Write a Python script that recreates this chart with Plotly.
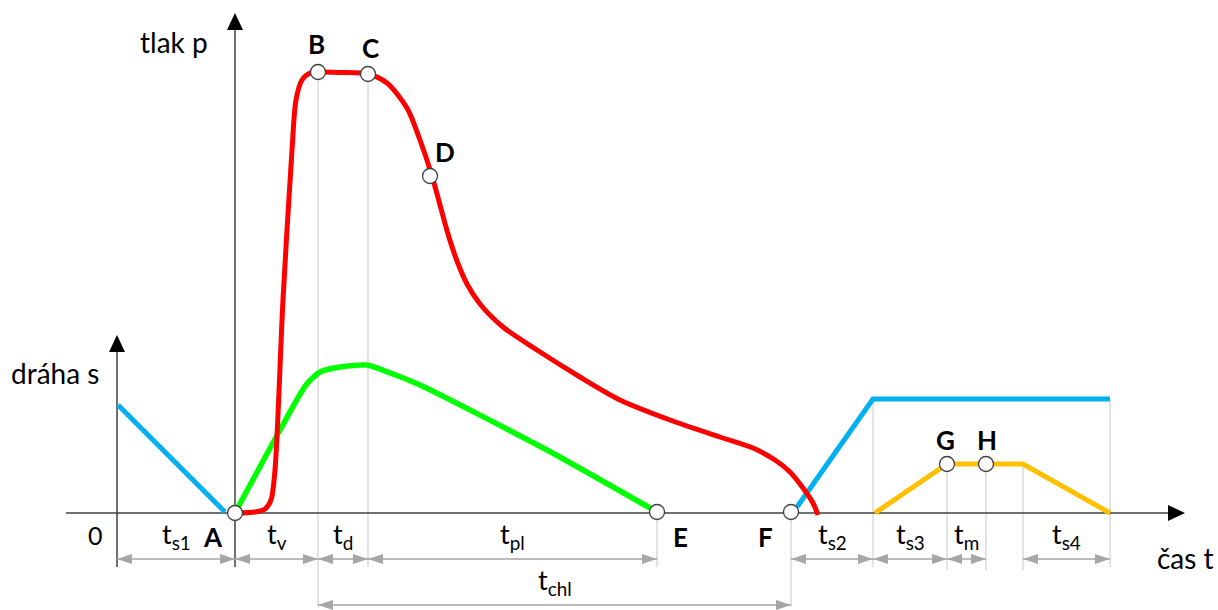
import plotly.graph_objects as go

# Coordinates: t = time units from point A, p = pressure / stroke units above the time axis
# ---- pressure curve (red) ----
red_t = [0, 20, 30, 36, 40, 48, 57, 61, 67, 75, 83, 105, 133, 152, 172, 185, 197, 205, 213, 222,
         232, 245, 268, 302, 345, 385, 435, 485, 518, 540, 555, 568, 578, 583]
red_p = [0, 1, 4, 13, 43, 213, 363, 413, 433, 440, 441, 440.5, 439, 430, 405, 373, 337, 308, 279, 252,
         229, 209, 186, 163, 136, 113, 93, 76, 65, 53, 41, 25, 10, -2]
# ---- stroke of the injection screw (green) ----
green_t = [0, 45, 71, 85, 105, 132, 150, 185, 312, 422]
green_p = [0, 83, 128, 141, 146, 148, 142, 128, 63, 1]
# ---- mould stroke (blue) ----
blue1_t = [-117, -10]
blue1_p = [108, 1]
blue2_t = [562, 638, 875]
blue2_p = [6, 114, 114]
# ---- ejector (orange) ----
orange_t = [640, 712, 751, 788, 875]
orange_p = [0, 49, 49, 49, 0]

# ---- named points ----
pt_names = ["A", "B", "C", "D", "E", "F", "G", "H"]
pt_t = [0, 83, 133, 195, 422, 556, 712, 751]
pt_p = [0, 441, 439, 337, 1, 1, 49, 49]
lbl_t = [-22, 81, 135, 210, 445, 530, 710, 752]
lbl_p = [-24, 469, 465, 361, -24, -24, 73, 73]

# ---- dimension intervals ----
dim_names = ["t<sub>s1</sub>", "t<sub>v</sub>", "t<sub>d</sub>", "t<sub>pl</sub>",
             "t<sub>s2</sub>", "t<sub>s3</sub>", "t<sub>m</sub>", "t<sub>s4</sub>"]
dim_start = [-118, 0, 83, 133, 556, 638, 712, 788]
dim_end = [0, 83, 133, 422, 638, 712, 751, 875]
chl_start, chl_end = 83, 556

# guide lines (t, top p, bottom p)
guide_t = [83, 133, 422, 556, 638, 712, 751, 788, 875]
guide_top = [441, 439, 1, 1, 114, 49, 49, 49, 114]
guide_bot = [-94, -54, -54, -94, -54, -57, -57, -57, -54]

DIM_Y = -46
CHL_Y = -92
GRAY = "#a6a6a6"
LIGHT = "#c8c8c8"
AX = "#404040"
FONT = "Lato"

fig = go.Figure()

# guide lines
gx, gy = [], []
for t, a, b in zip(guide_t, guide_top, guide_bot):
    gx += [t, t, None]
    gy += [a, b, None]
fig.add_trace(go.Scatter(x=gx, y=gy, mode="lines", line=dict(color=LIGHT, width=1), hoverinfo="skip"))

# axes lines
fig.add_trace(go.Scatter(x=[-169, 933], y=[0, 0], mode="lines", line=dict(color=AX, width=1.5), hoverinfo="skip"))
fig.add_trace(go.Scatter(x=[0, 0], y=[-54, 485], mode="lines", line=dict(color=AX, width=1.5), hoverinfo="skip"))
fig.add_trace(go.Scatter(x=[-118, -118], y=[-54, 163], mode="lines", line=dict(color=AX, width=1.5), hoverinfo="skip"))

# dimension lines
dx, dy = [], []
for s, e in zip(dim_start, dim_end):
    dx += [s, e, None]
    dy += [DIM_Y, DIM_Y, None]
dx += [chl_start, chl_end, None]
dy += [CHL_Y, CHL_Y, None]
fig.add_trace(go.Scatter(x=dx, y=dy, mode="lines", line=dict(color=GRAY, width=1.5), hoverinfo="skip"))

shapes = []


def tri(tx, ty, dirx, diry, length, half, color):
    # triangle with tip at (tx,ty), pointing in direction (dirx,diry)
    bx, by = tx - dirx * length, ty - diry * length
    px, py = -diry, dirx
    path = (f"M {tx},{ty} L {bx + px * half},{by + py * half} "
            f"L {bx - px * half},{by - py * half} Z")
    shapes.append(dict(type="path", path=path, xref="x", yref="y",
                       fillcolor=color, line=dict(width=0), layer="above"))


for s, e in zip(dim_start, dim_end):
    tri(s, DIM_Y, -1, 0, 15, 5, GRAY)
    tri(e, DIM_Y, 1, 0, 15, 5, GRAY)
tri(chl_start, CHL_Y, -1, 0, 15, 5, GRAY)
tri(chl_end, CHL_Y, 1, 0, 15, 5, GRAY)

# axis arrowheads
tri(950, 0, 1, 0, 17, 8, "#000000")
tri(0, 500, 0, 1, 17, 8, "#000000")
tri(-118, 178, 0, 1, 17, 8, "#000000")

# curves
fig.add_trace(go.Scatter(x=blue1_t, y=blue1_p, mode="lines", line=dict(color="#00b0f0", width=5), hoverinfo="skip"))
fig.add_trace(go.Scatter(x=blue2_t, y=blue2_p, mode="lines", line=dict(color="#00b0f0", width=5), hoverinfo="skip"))
fig.add_trace(go.Scatter(x=orange_t, y=orange_p, mode="lines", line=dict(color="#ffc000", width=5), hoverinfo="skip"))
fig.add_trace(go.Scatter(x=green_t, y=green_p, mode="lines", line=dict(color="#00ff00", width=5.5, shape="spline", smoothing=0.6), hoverinfo="skip"))
fig.add_trace(go.Scatter(x=red_t, y=red_p, mode="lines", line=dict(color="#ff0000", width=5, shape="spline", smoothing=0.8), hoverinfo="skip"))

# points
fig.add_trace(go.Scatter(x=pt_t, y=pt_p, mode="markers",
                         marker=dict(size=15, color="white", line=dict(color=AX, width=1.3)), hoverinfo="skip"))

ann = []
for n, t, p in zip(pt_names, lbl_t, lbl_p):
    ann.append(dict(x=t, y=p, text=f"<b>{n}</b>", showarrow=False, font=dict(family=FONT, size=26, color="black")))
for n, s, e in zip(dim_names, dim_start, dim_end):
    ann.append(dict(x=(s + e) / 2, y=-22, text=n, showarrow=False, font=dict(family=FONT, size=27, color="black")))
ann.append(dict(x=(chl_start + chl_end) / 2, y=-68, text="t<sub>chl</sub>", showarrow=False,
                font=dict(family=FONT, size=27, color="black")))
ann.append(dict(x=-61, y=471, text="tlak p", showarrow=False, font=dict(family=FONT, size=28, color="black")))
ann.append(dict(x=-180, y=140, text="dráha s", showarrow=False, font=dict(family=FONT, size=28, color="black")))
ann.append(dict(x=-140, y=-22, text="0", showarrow=False, font=dict(family=FONT, size=25, color="black")))
ann.append(dict(x=950, y=-45, text="čas t", showarrow=False, font=dict(family=FONT, size=28, color="black")))

fig.update_layout(
    width=1218, height=610,
    margin=dict(l=0, r=0, t=0, b=0),
    paper_bgcolor="white", plot_bgcolor="white",
    showlegend=False,
    xaxis=dict(range=[-235, 983], visible=False, fixedrange=True),
    yaxis=dict(range=[-97, 513], visible=False, fixedrange=True),
    shapes=shapes,
    annotations=ann,
)
fig.write_html("out.html", config={"displayModeBar": False},
               post_script="document.body.style.margin='0';document.body.style.padding='0';"
                           "document.body.style.overflow='hidden';")
